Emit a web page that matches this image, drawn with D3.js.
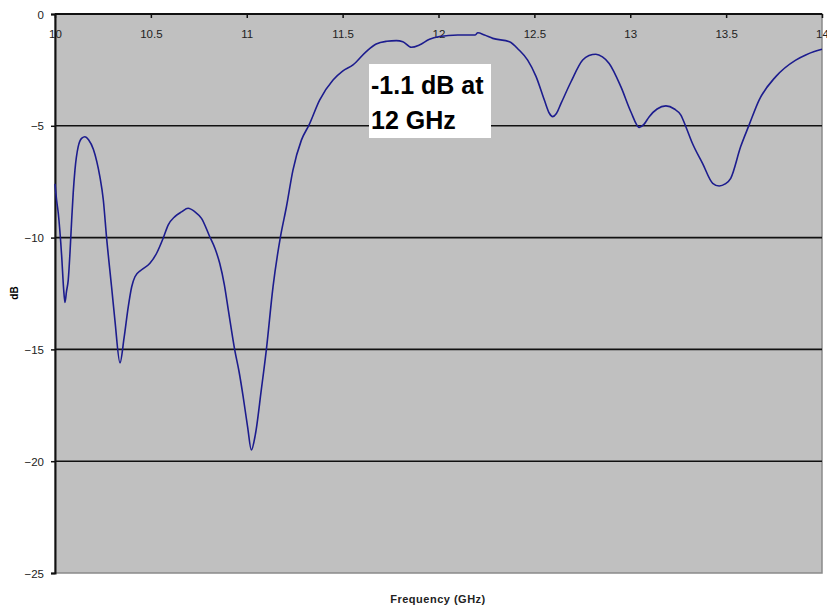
<!DOCTYPE html>
<html>
<head>
<meta charset="utf-8">
<script src="https://cdn.jsdelivr.net/npm/d3@7/dist/d3.min.js"></script>
<style>
	body { margin: 0; background: #fff; }
	svg { display: block; font-family: Arial, "Liberation Sans", sans-serif; }
</style>
</head>
<body>
<svg id="chart" width="827" height="611"></svg>
<script>
(function(d3) {
	'use strict';

	/** data */
	var frequency = [
		10.0, 10.008, 10.017, 10.035, 10.045, 10.052, 10.06, 10.069, 10.078, 10.087, 10.095, 10.104, 10.121, 10.14,
		10.156, 10.175, 10.2, 10.218, 10.234, 10.252, 10.269, 10.295, 10.3125, 10.339, 10.36, 10.382, 10.4, 10.417,
		10.45, 10.495, 10.53, 10.564, 10.59, 10.625, 10.66, 10.694, 10.73, 10.764, 10.807, 10.835, 10.859, 10.883,
		10.905, 10.9375, 10.96, 10.981, 11.005, 11.024, 11.045, 11.076, 11.102, 11.137, 11.175, 11.207,
		11.241, 11.285, 11.325, 11.38, 11.45, 11.5, 11.554, 11.623, 11.675, 11.73, 11.78, 11.814, 11.858, 11.9,
		11.953, 12.005, 12.1, 12.19, 12.205, 12.24, 12.283, 12.37, 12.42, 12.465, 12.509, 12.552, 12.578, 12.595,
		12.615, 12.639, 12.691, 12.752, 12.785, 12.821, 12.855, 12.89, 12.951, 13.003, 13.047, 13.07, 13.099,
		13.14, 13.186, 13.23, 13.264, 13.29, 13.324, 13.377, 13.43, 13.464, 13.495, 13.524, 13.576, 13.62, 13.672,
		13.759, 13.863, 13.915, 13.96, 14.0
	];
	var returnLoss = [
		-7.6, -8.3, -8.9, -10.85, -12.3, -12.9, -12.4, -11.9, -10.7, -9.2, -8.0, -6.98, -5.93, -5.55,
		-5.49, -5.62, -6.05, -6.6, -7.27, -8.32, -10.0, -12.2, -13.7, -15.6, -14.5, -13.1, -12.2, -11.75,
		-11.45, -11.15, -10.7, -10.03, -9.44, -9.06, -8.85, -8.69, -8.85, -9.14, -9.96, -10.5, -11.15, -12.1,
		-13.3, -15.03, -16.0, -17.1, -18.5, -19.5, -18.8, -16.8, -15.03, -12.2, -10.0, -8.62,
		-6.98, -5.64, -4.96, -3.85, -2.95, -2.55, -2.28, -1.68, -1.34, -1.22, -1.19, -1.24, -1.49, -1.39,
		-1.13, -1.01, -0.94, -0.94, -0.84, -0.94, -1.09, -1.24, -1.61, -2.06, -2.8, -3.85, -4.44, -4.59,
		-4.45, -4.0, -3.03, -2.06, -1.86, -1.8, -1.92, -2.21, -3.25, -4.37, -5.07, -4.95, -4.59,
		-4.25, -4.11, -4.25, -4.52, -5.04, -5.78, -6.68, -7.57, -7.69, -7.6, -7.35, -5.93, -4.96, -3.85,
		-2.8, -2.06, -1.83, -1.68, -1.58
	];
	var xTicks = [10, 10.5, 11, 11.5, 12, 12.5, 13, 13.5, 14];
	var yTicks = [0, -5, -10, -15, -20, -25];
	var gridLevels = [-5, -10, -15, -20];
	var noteLines = ['-1.1 dB at', '12 GHz'];

	var svg = d3.select('#chart');
	var left = 55, right = 822, top = 14, bottom = 573;

	var x = d3.scaleLinear().domain([10, 14]).range([left, right]);
	var y = d3.scaleLinear().domain([0, -25]).range([top, bottom]);

	/** plot area */
	svg.append('rect').attr('x', left).attr('y', top)
		.attr('width', right - left).attr('height', bottom - top)
		.attr('fill', '#c0c0c0').attr('stroke', '#8a8a8a').attr('stroke-width', 1.5);

	svg.append('g').selectAll('line').data(gridLevels).enter().append('line')
		.attr('x1', left).attr('x2', right)
		.attr('y1', function(d) { return y(d); }).attr('y2', function(d) { return y(d); })
		.attr('stroke', '#111').attr('stroke-width', 1.6);

	/** axes */
	var yAxis = d3.axisLeft(y).tickValues(yTicks).tickSize(4).tickPadding(7).tickFormat(d3.format('d'));
	var yG = svg.append('g').attr('transform', 'translate(' + left + ',0)').call(yAxis);
	yG.select('.domain').attr('stroke', '#111').attr('stroke-width', 2);
	yG.selectAll('.tick line').attr('stroke', '#111').attr('stroke-width', 1.5);
	yG.selectAll('text').attr('font-size', '11.5px').attr('fill', '#222').attr('dy', '0.35em');

	var xAxis = d3.axisBottom(x).tickValues(xTicks).tickSize(4).tickPadding(12).tickFormat(function(d) { return d; });
	var xG = svg.append('g').attr('transform', 'translate(0,' + top + ')').call(xAxis);
	xG.select('.domain').attr('stroke', '#111').attr('stroke-width', 2).attr('d', 'M' + left + ',0H' + right);
	xG.selectAll('.tick line').attr('stroke', '#111').attr('stroke-width', 1.5);
	xG.selectAll('text').attr('font-size', '11.5px').attr('fill', '#222');

	/** curve */
	var points = frequency.map(function(f, i) { return [f, returnLoss[i]]; });
	var line = d3.line()
		.x(function(d) { return x(d[0]); })
		.y(function(d) { return y(d[1]); })
		.curve(d3.curveMonotoneX);
	svg.append('path').datum(points).attr('d', line)
		.attr('fill', 'none').attr('stroke', '#1c1c8e').attr('stroke-width', 1.6);

	/** annotation */
	svg.append('rect').attr('x', 369).attr('y', 64).attr('width', 122).attr('height', 74).attr('fill', '#fff');
	svg.append('g').selectAll('text').data(noteLines).enter().append('text')
		.attr('x', 371).attr('y', function(d, i) { return 94 + i * 35; })
		.attr('font-size', '25px').attr('font-weight', 'bold').attr('fill', '#000')
		.text(function(d) { return d; });

	/** axis titles */
	svg.append('text').attr('transform', 'translate(18,293) rotate(-90)')
		.attr('text-anchor', 'middle').attr('font-size', '10px').attr('font-weight', 'bold')
		.text('dB');
	svg.append('text').attr('x', 438).attr('y', 603)
		.attr('text-anchor', 'middle').attr('font-size', '11px').attr('font-weight', 'bold')
		.attr('letter-spacing', '0.5px').attr('fill', '#222')
		.text('Frequency (GHz)');
})(d3);
</script>
</body>
</html>
